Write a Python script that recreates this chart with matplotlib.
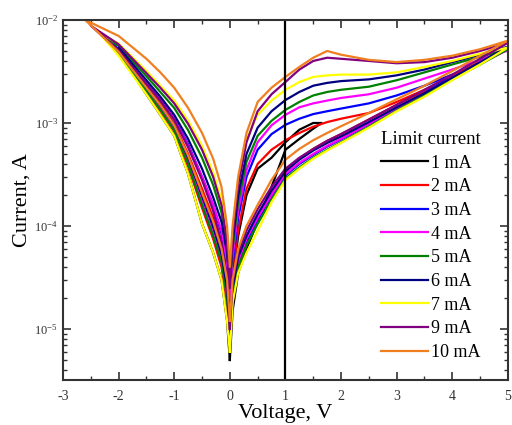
import matplotlib
matplotlib.use('Agg')
import matplotlib.pyplot as plt
from matplotlib.ticker import LogLocator, MultipleLocator, NullFormatter

plt.rcParams['font.family'] = ['Liberation Serif', 'DejaVu Serif']
plt.rcParams['mathtext.fontset'] = 'stix'
plt.rcParams['axes.unicode_minus'] = False

# voltage grids (V) for the positive and negative sweeps
v_pos = [0, 0.05, 0.15, 0.3, 0.5, 0.75, 1.0, 1.25, 1.5, 1.75, 2.0, 2.5, 3.0, 3.5, 4.0, 4.5, 5.0]
v_neg = [0, -0.05, -0.15, -0.3, -0.5, -0.75, -1.0, -1.25, -1.5, -2.0]

labels = ['1 mA', '2 mA', '3 mA', '4 mA', '5 mA', '6 mA', '7 mA', '9 mA', '10 mA']
colors = ['black', '#ff0000', '#0000ff', '#ff00ff', '#008000', '#000080', '#ffff00', '#800080', '#f07f20']

# currents (A)
pos_up = [
    [5e-6, 1.5e-5, 3.5e-5, 6e-5, 1.1e-4, 2.4e-4, 5.5e-4, 7e-4, 8.8e-4],
    [7e-6, 2e-5, 4e-5, 6.5e-5, 1.1e-4, 2e-4, 3.4e-4, 4.5e-4, 5.6e-4, 6.7e-4, 7.8e-4, 1.08e-3, 1.5e-3, 2.05e-3, 2.85e-3, 3.95e-3, 5.4e-3],
    [9e-6, 2.3e-5, 4.5e-5, 7e-5, 1.15e-4, 1.95e-4, 3.1e-4, 4e-4, 4.9e-4, 5.9e-4, 6.9e-4, 9.7e-4, 1.38e-3, 1.95e-3, 2.95e-3],
    [8e-6, 2.2e-5, 4.5e-5, 7.5e-5, 1.2e-4, 2e-4, 3.2e-4, 4.1e-4, 5e-4, 6e-4, 7e-4, 9.8e-4, 1.4e-3, 1.95e-3, 2.75e-3, 3.85e-3, 5.2e-3],
    [7e-6, 2e-5, 4e-5, 6.5e-5, 1.05e-4, 1.8e-4, 2.9e-4, 3.7e-4, 4.6e-4, 5.5e-4, 6.5e-4, 9.2e-4, 1.32e-3, 1.85e-3, 2.65e-3, 3.7e-3, 5.1e-3],
    [9e-6, 2.5e-5, 5e-5, 8e-5, 1.3e-4, 2.2e-4, 3.4e-4, 4.4e-4, 5.4e-4, 6.4e-4, 7.4e-4, 1.02e-3, 1.42e-3, 1.95e-3, 2.75e-3, 3.9e-3, 5.5e-3],
    [6e-6, 1.8e-5, 3.5e-5, 5.5e-5, 9e-5, 1.7e-4, 2.8e-4, 3.6e-4, 4.5e-4, 5.4e-4, 6.4e-4, 9e-4, 1.3e-3, 1.8e-3, 2.6e-3, 3.7e-3, 5.2e-3],
    [1e-5, 2.8e-5, 5.5e-5, 9e-5, 1.45e-4, 2.4e-4, 3.6e-4, 4.6e-4, 5.6e-4, 6.7e-4, 7.8e-4, 1.08e-3, 1.5e-3, 2.1e-3, 2.95e-3, 4.2e-3, 6e-3],
    [1.2e-5, 3e-5, 6e-5, 1e-4, 1.6e-4, 2.8e-4, 4.4e-4, 5.6e-4, 6.8e-4, 8e-4, 9.3e-4, 1.25e-3, 1.7e-3, 2.3e-3, 3.2e-3, 4.5e-3, 6.3e-3],
]
pos_down = [
    [1e-5, 3e-5, 8e-5, 2e-4, 3.6e-4, 4.6e-4, 6.5e-4, 8.6e-4, 1e-3],
    [1.2e-5, 3.5e-5, 9e-5, 2.3e-4, 4e-4, 5.5e-4, 6.8e-4, 8e-4, 9.2e-4, 1.02e-3, 1.1e-3, 1.25e-3, 1.6e-3, 2.1e-3, 2.8e-3, 3.8e-3, 5e-3],
    [1.7e-5, 4.2e-5, 1.2e-4, 3e-4, 5.5e-4, 7.8e-4, 9.6e-4, 1.1e-3, 1.22e-3, 1.3e-3, 1.38e-3, 1.55e-3, 1.85e-3, 2.3e-3, 2.95e-3],
    [2e-5, 5e-5, 1.4e-4, 3.5e-4, 6.5e-4, 9.5e-4, 1.2e-3, 1.42e-3, 1.55e-3, 1.65e-3, 1.75e-3, 1.9e-3, 2.2e-3, 2.7e-3, 3.3e-3, 4.1e-3, 5e-3],
    [2.5e-5, 6e-5, 1.7e-4, 4.2e-4, 7.5e-4, 1.05e-3, 1.34e-3, 1.6e-3, 1.85e-3, 2e-3, 2.1e-3, 2.25e-3, 2.6e-3, 3.1e-3, 3.7e-3, 4.4e-3, 5.3e-3],
    [2.8e-5, 7e-5, 2e-4, 5e-4, 9e-4, 1.3e-3, 1.67e-3, 2e-3, 2.3e-3, 2.45e-3, 2.55e-3, 2.65e-3, 2.9e-3, 3.3e-3, 3.9e-3, 4.6e-3, 5.5e-3],
    [3.5e-5, 9e-5, 2.8e-4, 7e-4, 1.2e-3, 1.65e-3, 2.1e-3, 2.5e-3, 2.8e-3, 2.9e-3, 2.95e-3, 2.95e-3, 3.1e-3, 3.5e-3, 4e-3, 4.7e-3, 5.5e-3],
    [2.5e-5, 8e-5, 2.5e-4, 6.5e-4, 1.3e-3, 1.9e-3, 2.5e-3, 3.3e-3, 4e-3, 4.3e-3, 4.2e-3, 4e-3, 3.8e-3, 3.9e-3, 4.3e-3, 5e-3, 6e-3],
    [4e-5, 1e-4, 3e-4, 8e-4, 1.6e-3, 2.2e-3, 2.8e-3, 3.5e-3, 4.3e-3, 5e-3, 4.6e-3, 4.1e-3, 3.9e-3, 4.1e-3, 4.5e-3, 5.2e-3, 6.3e-3],
]
pos_tip_v = [1.65, 5.0, 4.0, 5.0, 5.0, 5.0, 5.0, 5.0, 5.0]
pos_tip_i = [1e-3, 5.2e-3, 2.95e-3, 5.1e-3, 5.2e-3, 5.5e-3, 5.4e-3, 6e-3, 6.3e-3]

neg_out = [
    [1e-5, 2.5e-5, 5e-5, 9e-5, 1.8e-4, 4.2e-4, 8.8e-4, 1.38e-3, 2.1e-3],
    [1.2e-5, 3e-5, 6.5e-5, 1.2e-4, 2.3e-4, 5e-4, 9.8e-4, 1.55e-3, 2.25e-3, 5e-3],
    [1.7e-5, 4e-5, 8.5e-5, 1.6e-4, 3e-4, 6.2e-4, 1.12e-3, 1.72e-3, 2.5e-3, 5.2e-3],
    [2e-5, 4.5e-5, 9e-5, 1.6e-4, 3e-4, 6e-4, 1.1e-3, 1.7e-3, 2.45e-3, 5.2e-3],
    [2.5e-5, 6e-5, 1.35e-4, 2.5e-4, 4.6e-4, 8.5e-4, 1.4e-3, 2e-3, 2.85e-3, 5.6e-3],
    [2.8e-5, 5.5e-5, 1.1e-4, 1.9e-4, 3.6e-4, 7e-4, 1.2e-3, 1.8e-3, 2.6e-3, 5.3e-3],
    [3.5e-5, 8e-5, 1.8e-4, 3.3e-4, 6e-4, 1.05e-3, 1.65e-3, 2.3e-3, 3.2e-3, 5.9e-3],
    [2.5e-5, 7e-5, 1.6e-4, 3e-4, 5.5e-4, 9.8e-4, 1.55e-3, 2.2e-3, 3.05e-3, 5.8e-3],
    [4e-5, 1e-4, 2.4e-4, 4.5e-4, 8e-4, 1.4e-3, 2.2e-3, 3.1e-3, 4.2e-3, 7e-3],
]
neg_back = [
    [5e-6, 1.2e-5, 3e-5, 5.5e-5, 1.05e-4, 3.2e-4, 7.5e-4, 1.2e-3, 1.9e-3],
    [7e-6, 1.8e-5, 4e-5, 7.5e-5, 1.5e-4, 3.8e-4, 8.3e-4, 1.32e-3, 2e-3, 4.6e-3],
    [9e-6, 2.2e-5, 4.8e-5, 9e-5, 1.8e-4, 4.4e-4, 9e-4, 1.42e-3, 2.15e-3, 4.9e-3],
    [8e-6, 2e-5, 4.5e-5, 8.5e-5, 1.7e-4, 4.2e-4, 8.8e-4, 1.4e-3, 2.1e-3, 4.8e-3],
    [7e-6, 2e-5, 4.5e-5, 8e-5, 1.6e-4, 4e-4, 8.5e-4, 1.35e-3, 2.05e-3, 4.7e-3],
    [9e-6, 2.5e-5, 5.5e-5, 1e-4, 2e-4, 4.6e-4, 9.5e-4, 1.5e-3, 2.2e-3, 4.9e-3],
    [6e-6, 1.2e-5, 3e-5, 5.5e-5, 1.05e-4, 3.2e-4, 7.5e-4, 1.2e-3, 1.9e-3, 4.5e-3],
    [1e-5, 3e-5, 7e-5, 1.4e-4, 2.8e-4, 5.8e-4, 1.07e-3, 1.65e-3, 2.4e-3, 5.1e-3],
    [1.2e-5, 3e-5, 6e-5, 1.1e-4, 2.1e-4, 4.8e-4, 9.5e-4, 1.5e-3, 2.2e-3, 4.9e-3],
]
neg_tip_v = [-1.65, -1.9, -2.1, -1.95, -2.25, -2.0, -2.35, -2.5, -2.6]
neg_tip_i = [2.5e-3, 4.5e-3, 5.8e-3, 4.9e-3, 6.8e-3, 5.4e-3, 7.5e-3, 8.8e-3, 1e-2]


def branch(vgrid, cur, tip_v, tip_i, side):
    pts = [(v, c) for v, c in zip(vgrid, cur) if side * v < side * tip_v]
    pts.append((tip_v, tip_i))
    return pts


fig = plt.figure(figsize=(5.12, 4.25), dpi=100)
ax = fig.add_axes([0.123, 0.106, 0.869, 0.847])

for k in range(len(labels)):
    up = branch(v_pos, pos_up[k], pos_tip_v[k], pos_tip_i[k], 1)
    dn = branch(v_pos, pos_down[k], pos_tip_v[k], pos_tip_i[k], 1)
    no = branch(v_neg, neg_out[k], neg_tip_v[k], neg_tip_i[k], -1)
    nb = branch(v_neg, neg_back[k], neg_tip_v[k], neg_tip_i[k], -1)
    loop = up + dn[::-1] + no + nb[::-1]
    ax.plot([p[0] for p in loop], [p[1] for p in loop], color=colors[k], lw=1.6, label=labels[k])

ax.axvline(1, color='black', lw=1.6)

ax.set_yscale('log')
ax.set_xlim(-3, 5)
ax.set_ylim(3.2e-6, 1e-2)
ax.xaxis.set_major_locator(MultipleLocator(1))
ax.xaxis.set_minor_locator(MultipleLocator(0.5))
ax.yaxis.set_major_locator(LogLocator(base=10, numticks=10))
ax.yaxis.set_minor_locator(LogLocator(base=10, subs=range(2, 10), numticks=20))
ax.yaxis.set_minor_formatter(NullFormatter())
ax.tick_params(which='both', direction='in', top=True, right=True, colors='#333333')
ax.tick_params(which='major', length=6, width=1.2, labelsize=10)
ax.tick_params(which='minor', length=3, width=1)
ax.tick_params(axis='x', which='major', pad=7)
ax.tick_params(axis='y', which='major', labelsize=9)
for s in ax.spines.values():
    s.set_linewidth(1.5)
    s.set_color('#333333')

ax.set_xlabel('Voltage, V', fontsize=16, labelpad=1)
ax.set_ylabel('Current, A', fontsize=16, labelpad=2)

leg = ax.legend(title='Limit current', loc='upper left', bbox_to_anchor=(0.69, 0.722),
                frameon=False, fontsize=13, title_fontsize=13.5, handlelength=2.6,
                handletextpad=0.2, labelspacing=0.37, borderpad=0.1)

plt.savefig('out.png', dpi=100)
